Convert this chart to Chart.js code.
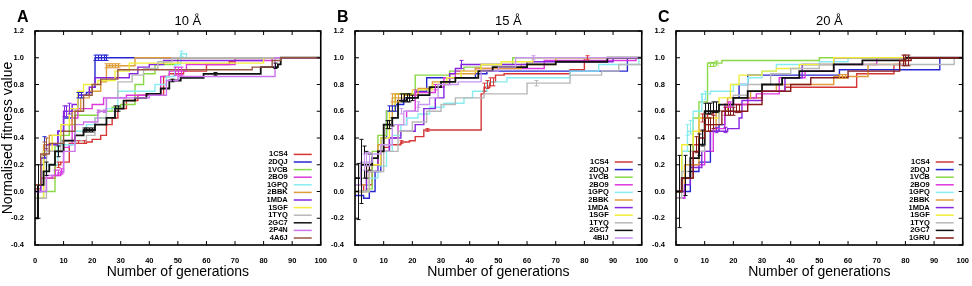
<!DOCTYPE html>
<html>
<head>
<meta charset="utf-8">
<script src="https://cdn.jsdelivr.net/npm/chart.js@4"></script>
<style>
html, body { margin: 0; padding: 0; background: #fff; }
#wrap { position: relative; width: 972px; height: 286px; overflow: hidden; }
#wrap canvas { position: absolute; top: 0; }
</style>
</head>
<body>
<div id="wrap">
  <canvas id="cA" width="330" height="286" style="left:0"></canvas>
  <canvas id="cB" width="326" height="286" style="left:325px"></canvas>
  <canvas id="cC" width="327" height="286" style="left:645px"></canvas>
</div>
<script>
// colours per structure
const colours = {
  '1CS4': '#d63636', '2DQJ': '#2626d0', '1VCB': '#8ad844', '2BO9': '#dc38dc',
  '1GPQ': '#88ecf0', '2BBK': '#de9c3a', '1MDA': '#8626e0', '1SGF': '#f0ee3a',
  '1TYQ': '#b8b8b8', '2GC7': '#111111', '2P4N': '#cc74ee', '4A6J': '#965640',
  '4BIJ': '#c896ee', '1GRU': '#861a1a'
};

const xTicks = [0, 10, 20, 30, 40, 50, 60, 70, 80, 90, 100];
const yTicks = [-0.4, -0.2, 0.0, 0.2, 0.4, 0.6, 0.8, 1.0, 1.2];

// ---- panel A, 10 Å ----  each series: [generation, normalised fitness]
const labelsA = ['1CS4', '2DQJ', '1VCB', '2BO9', '1GPQ', '2BBK', '1MDA', '1SGF', '1TYQ', '2GC7', '2P4N', '4A6J'];
const seriesA = [
  [[0,0.02],[2,0.1],[7,0.2],[9,0.22],[12,0.36],[18,0.37],[20,0.39],[23,0.42],[25,0.5],[27,0.55],[29,0.62],[32,0.68],[36,0.72],[45,0.86],[47,0.88],[52,0.9],[60,0.95],[68,0.97],[70,1.0],[100,1.0]],
  [[0,0.05],[2,0.2],[3,0.3],[8,0.45],[10,0.55],[13,0.62],[15,0.72],[18,0.74],[20,0.78],[21,1.0],[100,1.0]],
  [[0,-0.05],[3,0.0],[7,0.35],[9,0.42],[12,0.5],[14,0.57],[22,0.6],[27,0.63],[30,0.65],[35,0.8],[38,0.88],[42,0.95],[50,1.0],[100,1.0]],
  [[0,0.0],[3,0.1],[6,0.12],[9,0.15],[10,0.33],[12,0.35],[13,0.55],[15,0.62],[20,0.65],[24,0.7],[32,0.72],[44,0.86],[47,0.9],[53,0.95],[70,0.98],[83,1.0],[100,1.0]],
  [[0,0.0],[4,0.2],[8,0.35],[14,0.45],[18,0.5],[21,0.55],[25,0.62],[29,0.75],[42,0.8],[46,0.86],[49,0.95],[51,1.03],[53,1.0],[100,1.0]],
  [[0,0.05],[3,0.35],[5,0.42],[9,0.5],[13,0.6],[16,0.7],[19,0.75],[23,0.82],[25,0.94],[35,1.0],[100,1.0]],
  [[0,0.0],[2,0.25],[4,0.35],[8,0.45],[10,0.6],[13,0.65],[15,0.72],[19,0.78],[21,0.85],[33,0.88],[36,0.93],[40,0.95],[45,0.98],[80,1.0],[100,1.0]],
  [[0,-0.05],[3,0.3],[6,0.42],[9,0.5],[12,0.62],[15,0.75],[17,0.8],[22,0.83],[28,0.9],[33,0.96],[80,1.0],[100,1.0]],
  [[0,-0.05],[4,0.3],[9,0.38],[18,0.42],[21,0.55],[25,0.7],[29,0.82],[34,0.87],[38,0.92],[43,0.97],[48,1.0],[100,1.0]],
  [[0,-0.2],[1,0.05],[3,0.15],[5,0.2],[7,0.3],[10,0.38],[14,0.42],[17,0.46],[21,0.5],[25,0.55],[28,0.62],[31,0.68],[35,0.7],[39,0.73],[44,0.77],[47,0.83],[51,0.85],[59,0.88],[79,0.93],[85,0.95],[86,1.0],[100,1.0]],
  [[0,0.0],[4,0.12],[8,0.14],[10,0.3],[14,0.5],[17,0.52],[22,0.6],[25,0.7],[40,0.72],[46,0.83],[50,0.86],[84,1.0],[100,1.0]],
  [[0,0.05],[2,0.28],[5,0.36],[10,0.45],[14,0.6],[17,0.72],[20,0.8],[23,0.84],[29,0.91],[76,0.93],[83,0.98],[86,1.0],[100,1.0]]
];
// error bars: [series index, generation, value, half-width]
const errorsA = [
  [1,21,1.0,0.02],[1,22,1.0,0.02],[1,23,1.0,0.02],[1,24,1.0,0.02],[1,25,1.0,0.02],[1,3,0.33,0.08],[1,15,0.72,0.02],[1,16,0.72,0.02],
  [5,25,0.94,0.015],[5,26,0.94,0.015],[5,27,0.94,0.015],[5,28,0.94,0.015],[5,29,0.94,0.015],
  [9,1,0.0,0.2],[9,4,0.17,0.05],[9,8,0.3,0.04],[9,17,0.46,0.015],[9,18,0.46,0.015],[9,19,0.46,0.015],[9,20,0.46,0.015],
  [9,28,0.62,0.02],[9,29,0.62,0.02],[9,48,0.83,0.01],[9,63,0.88,0.01],[9,84,0.94,0.02],
  [6,10,0.6,0.04],[6,11,0.6,0.04],[6,12,0.62,0.04],[3,7,0.14,0.02],[3,8,0.14,0.02],[3,9,0.15,0.02],[3,49,0.9,0.03],[3,50,0.9,0.03],[3,51,0.9,0.03],
  [4,51,1.03,0.02],[11,3,0.32,0.05],[11,4,0.36,0.04],[0,8,0.2,0.02],[0,15,0.37,0.01],[0,17,0.37,0.01],[10,22,0.6,0.01],[10,24,0.6,0.01]
];

// ---- panel B, 15 Å ----
const labelsB = ['1CS4', '2DQJ', '1VCB', '2BO9', '1GPQ', '2BBK', '1MDA', '1SGF', '1TYQ', '2GC7', '4BIJ'];
const seriesB = [
  [[0,0.0],[3,0.05],[6,0.2],[8,0.3],[10,0.33],[12,0.35],[16,0.37],[19,0.38],[21,0.41],[24,0.46],[44,0.73],[45,0.78],[47,0.82],[49,0.87],[52,0.88],[75,0.91],[80,1.0],[100,1.0]],
  [[0,-0.03],[3,-0.05],[5,0.0],[7,0.15],[9,0.4],[11,0.6],[14,0.65],[17,0.7],[21,0.75],[25,0.85],[42,0.88],[46,0.9],[95,1.0],[100,1.0]],
  [[0,0.0],[4,0.02],[6,0.3],[8,0.42],[11,0.6],[14,0.73],[21,0.87],[33,0.9],[38,0.93],[44,0.95],[55,1.0],[100,1.0]],
  [[0,0.05],[5,0.2],[9,0.3],[12,0.4],[15,0.5],[18,0.6],[21,0.74],[28,0.78],[31,0.85],[35,0.9],[42,0.92],[66,0.98],[98,1.0],[100,1.0]],
  [[0,0.05],[5,0.1],[8,0.19],[11,0.3],[13,0.42],[16,0.5],[18,0.55],[22,0.58],[26,0.63],[31,0.66],[38,0.7],[41,0.75],[46,0.82],[53,0.85],[75,0.9],[85,0.95],[99,1.0],[100,1.0]],
  [[0,0.05],[4,0.2],[8,0.35],[10,0.5],[13,0.7],[17,0.72],[22,0.77],[27,0.82],[33,0.88],[42,0.92],[58,0.95],[70,1.0],[100,1.0]],
  [[0,0.0],[4,0.15],[8,0.3],[12,0.4],[16,0.45],[21,0.5],[24,0.62],[28,0.7],[31,0.8],[33,0.88],[35,0.92],[37,0.95],[60,0.97],[90,1.0],[100,1.0]],
  [[0,0.0],[5,0.2],[9,0.4],[12,0.6],[14,0.73],[20,0.76],[27,0.8],[32,0.85],[37,0.9],[44,0.95],[51,0.97],[62,1.0],[100,1.0]],
  [[0,0.0],[5,0.15],[10,0.3],[15,0.45],[20,0.52],[25,0.6],[30,0.65],[35,0.7],[45,0.73],[60,0.81],[75,0.87],[86,0.9],[92,0.95],[100,1.0]],
  [[0,0.1],[2,0.2],[6,0.25],[8,0.3],[10,0.5],[13,0.55],[15,0.68],[18,0.7],[22,0.72],[26,0.78],[30,0.82],[35,0.85],[43,0.9],[48,0.93],[60,0.95],[70,0.97],[88,1.0],[100,1.0]],
  [[0,0.05],[2,0.22],[6,0.28],[9,0.35],[13,0.5],[17,0.6],[22,0.65],[26,0.7],[29,0.8],[36,0.82],[44,0.9],[50,0.93],[56,1.0],[100,1.0]]
];
const errorsB = [
  [9,1,0.0,0.21],[9,2,0.15,0.24],[9,3,0.22,0.12],[9,4,0.2,0.1],[9,5,0.22,0.06],[9,11,0.5,0.03],[9,12,0.5,0.03],[9,13,0.52,0.03],
  [9,16,0.7,0.03],[9,17,0.7,0.03],[9,18,0.7,0.03],[9,19,0.7,0.03],[9,20,0.7,0.02],
  [10,3,0.22,0.06],[10,4,0.24,0.05],[10,5,0.24,0.05],[5,13,0.7,0.03],[5,14,0.7,0.03],[5,15,0.7,0.03],
  [0,45,0.78,0.03],[0,46,0.8,0.03],[0,47,0.82,0.03],[0,48,0.82,0.03],[0,81,1.0,0.015],[0,16,0.37,0.01],[0,25,0.46,0.01],
  [8,63,0.81,0.02],[6,37,0.95,0.03],[1,12,0.62,0.02],[1,13,0.62,0.02],[1,14,0.62,0.02],[10,62,1.0,0.015],[10,16,0.6,0.02],[10,22,0.65,0.02],[3,21,0.74,0.02],[3,28,0.78,0.02]
];

// ---- panel C, 20 Å ----
const labelsC = ['1CS4', '2DQJ', '1VCB', '2BO9', '1GPQ', '2BBK', '1MDA', '1SGF', '1TYQ', '2GC7', '1GRU'];
const seriesC = [
  [[0,0.0],[3,0.1],[6,0.35],[8,0.55],[11,0.58],[13,0.6],[17,0.65],[25,0.7],[30,0.75],[38,0.78],[63,0.88],[76,0.95],[80,1.0],[100,1.0]],
  [[0,-0.05],[3,0.0],[5,0.15],[8,0.22],[12,0.45],[15,0.5],[17,0.6],[20,0.7],[22,0.8],[25,0.87],[57,0.91],[92,1.0],[100,1.0]],
  [[0,0.0],[2,0.3],[6,0.55],[8,0.67],[11,0.96],[16,0.98],[50,1.0],[100,1.0]],
  [[0,-0.05],[3,0.1],[5,0.2],[10,0.3],[13,0.47],[17,0.65],[25,0.7],[28,0.73],[36,0.85],[45,0.9],[55,0.95],[70,1.0],[100,1.0]],
  [[0,0.0],[2,0.3],[4,0.45],[6,0.6],[9,0.73],[12,0.75],[20,0.8],[25,0.85],[30,0.9],[35,0.95],[50,0.97],[60,1.0],[100,1.0]],
  [[0,0.0],[3,0.2],[8,0.45],[14,0.6],[18,0.7],[26,0.75],[35,0.8],[55,0.86],[67,0.95],[80,1.0],[100,1.0]],
  [[0,0.0],[3,0.05],[5,0.18],[9,0.3],[12,0.45],[18,0.47],[22,0.55],[23,0.68],[30,0.75],[38,0.85],[44,0.95],[55,1.0],[100,1.0]],
  [[0,0.0],[2,0.35],[6,0.45],[8,0.55],[15,0.7],[19,0.8],[22,0.87],[30,0.9],[35,0.92],[43,0.95],[55,1.0],[100,1.0]],
  [[0,-0.05],[2,0.15],[5,0.3],[10,0.5],[15,0.6],[20,0.72],[25,0.8],[33,0.88],[40,0.92],[50,0.95],[97,1.0],[100,1.0]],
  [[0,0.0],[2,0.1],[5,0.25],[8,0.35],[10,0.6],[15,0.65],[20,0.7],[25,0.75],[30,0.8],[37,0.85],[43,0.9],[55,0.95],[65,0.98],[80,1.0],[100,1.0]],
  [[0,0.0],[2,0.1],[6,0.3],[8,0.4],[10,0.5],[16,0.6],[25,0.65],[30,0.75],[40,0.8],[47,0.85],[60,0.9],[78,0.98],[82,1.0],[100,1.0]]
];
const errorsC = [
  [9,1,0.0,0.27],[9,3,0.12,0.15],[9,5,0.25,0.1],[9,8,0.35,0.08],[9,9,0.4,0.06],[9,10,0.62,0.04],[9,11,0.62,0.04],[9,12,0.62,0.04],[9,13,0.63,0.04],[9,14,0.63,0.04],
  [10,7,0.35,0.06],[10,10,0.5,0.05],[10,11,0.5,0.05],[10,12,0.5,0.05],[10,13,0.52,0.05],[10,17,0.6,0.03],[10,18,0.6,0.03],[10,19,0.6,0.03],[10,20,0.6,0.03],[10,21,0.62,0.03],[10,22,0.62,0.03],
  [10,79,0.98,0.04],[10,80,0.98,0.04],[10,81,0.98,0.04],
  [5,57,0.86,0.015],[5,58,0.86,0.015],[5,59,0.86,0.015],[2,12,0.95,0.015],[2,13,0.95,0.015],[2,14,0.96,0.015],
  [4,4,0.46,0.04],[4,5,0.48,0.05],[4,9,0.7,0.03],[4,10,0.72,0.03],[0,9,0.55,0.03],[3,18,0.65,0.02],[3,19,0.65,0.02],[6,14,0.46,0.02],[6,17,0.46,0.02]
];

Chart.defaults.font.family = '"Liberation Sans", Arial, sans-serif';
Chart.defaults.color = '#000';

const deco = {
  id: 'deco',
  afterDatasetsDraw(chart, args, o) {
    const { ctx, chartArea: a, scales: { x, y } } = chart;
    const ds = chart.data.datasets;
    ctx.save();
    // error bars
    ctx.lineWidth = 1;
    o.errors.forEach(([i, g, v, e]) => {
      const px = Math.round(x.getPixelForValue(g)) + 0.5;
      const lo = y.getPixelForValue(v - e), hi = y.getPixelForValue(v + e);
      ctx.strokeStyle = ds[i].borderColor;
      ctx.beginPath();
      ctx.moveTo(px, lo); ctx.lineTo(px, hi);
      ctx.moveTo(px - 2, lo); ctx.lineTo(px + 2, lo);
      ctx.moveTo(px - 2, hi); ctx.lineTo(px + 2, hi);
      ctx.stroke();
    });
    // frame + inward ticks
    ctx.strokeStyle = '#000';
    ctx.lineWidth = 1.6;
    ctx.strokeRect(a.left, a.top, a.width, a.height);
    ctx.lineWidth = 1;
    ctx.beginPath();
    xTicks.forEach(t => {
      const px = x.getPixelForValue(t);
      ctx.moveTo(px, a.bottom); ctx.lineTo(px, a.bottom - 4);
      ctx.moveTo(px, a.top); ctx.lineTo(px, a.top + 4);
    });
    yTicks.forEach(t => {
      const py = y.getPixelForValue(t);
      ctx.moveTo(a.left, py); ctx.lineTo(a.left + 4, py);
      ctx.moveTo(a.right, py); ctx.lineTo(a.right - 4, py);
    });
    ctx.stroke();
    // legend, text left of the line sample
    ctx.font = 'bold 7.5px "Liberation Sans", Arial, sans-serif';
    ctx.textAlign = 'right';
    ctx.textBaseline = 'middle';
    const n = ds.length;
    ds.forEach((d, i) => {
      const ry = a.bottom - 7 - (n - 1 - i) * 7.6;
      ctx.fillStyle = '#000';
      ctx.fillText(d.label, a.right - 33, ry);
      ctx.strokeStyle = d.borderColor;
      ctx.lineWidth = 1.5;
      ctx.beginPath();
      ctx.moveTo(a.right - 27, ry); ctx.lineTo(a.right - 9, ry);
      ctx.stroke();
    });
    // panel letter and title
    ctx.fillStyle = '#000';
    ctx.textAlign = 'left';
    ctx.font = 'bold 16px "Liberation Sans", Arial, sans-serif';
    ctx.fillText(o.letter, a.left - 18, 18);
    ctx.textAlign = 'center';
    ctx.font = '13px "Liberation Sans", Arial, sans-serif';
    ctx.fillText(o.title, (a.left + a.right) / 2 + 10, 21);
    ctx.restore();
  }
};

function makePanel(id, letter, title, labels, series, errors, yWidth, padRight, yTitle) {
  const n = labels.length;
  new Chart(document.getElementById(id), {
    type: 'line',
    data: {
      datasets: labels.map((lab, i) => ({
        label: lab,
        data: series[i].map(([g, v]) => ({ x: g, y: v })),
        borderColor: colours[lab],
        borderWidth: lab === '2GC7' ? 1.8 : 1.4,
        stepped: 'before',
        pointRadius: 0,
        fill: false,
        order: n - i
      }))
    },
    options: {
      responsive: false,
      animation: false,
      layout: { padding: { top: 31, right: padRight, left: 0, bottom: 0 } },
      plugins: {
        legend: { display: false },
        tooltip: { enabled: false },
        deco: { letter, title, errors }
      },
      scales: {
        x: {
          type: 'linear', min: 0, max: 100,
          afterFit: s => { s.height = 41; },
          grid: { display: false },
          border: { display: false },
          ticks: { stepSize: 10, padding: 3, maxRotation: 0, font: { size: 7.5, weight: 'bold' } },
          title: { display: true, text: 'Number of generations', font: { size: 14 }, padding: { top: 0, bottom: 5 } }
        },
        y: {
          min: -0.4, max: 1.2,
          afterFit: s => { s.width = yWidth; },
          grid: { display: false },
          border: { display: false },
          ticks: { stepSize: 0.2, padding: 3, font: { size: 7.5, weight: 'bold' },
                   callback: v => v.toFixed(1) },
          title: { display: !!yTitle, text: yTitle || '', font: { size: 14 }, padding: 0 }
        }
      }
    },
    plugins: [deco]
  });
}

makePanel('cA', 'A', '10 Å', labelsA, seriesA, errorsA, 35, 6, 'Normalised fitness value');
makePanel('cB', 'B', '15 Å', labelsB, seriesB, errorsB, 30, 6);
makePanel('cC', 'C', '20 Å', labelsC, seriesC, errorsC, 31, 8);
</script>
</body>
</html>
